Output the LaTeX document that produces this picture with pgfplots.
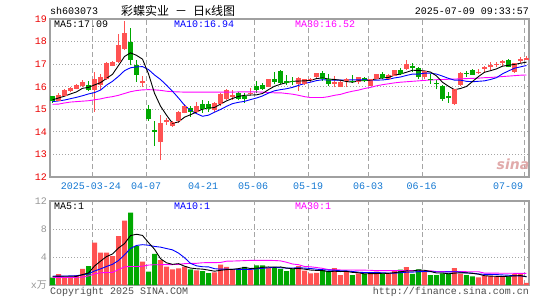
\documentclass[border=0pt]{standalone}
\usepackage{fontspec}
\setmainfont{Liberation Mono}
\setmonofont{Liberation Mono}
\newfontfamily\cjk{Noto Sans CJK SC}
\newfontfamily\logofont{DejaVu Sans}
\usepackage{pgfplots}
\pgfplotsset{compat=1.18}
\usepackage{pgfplotstable}
\usetikzlibrary{plotmarks}
\definecolor{cred}{RGB}{255,82,82}
\definecolor{cgreen}{RGB}{0,168,0}
\definecolor{cblue}{RGB}{0,0,255}
\definecolor{cmag}{RGB}{255,0,255}
\definecolor{cdate}{RGB}{20,120,210}
\definecolor{cframe}{RGB}{160,160,160}
\definecolor{cgrid}{RGB}{165,165,165}
\definecolor{cytk}{RGB}{235,0,0}
\definecolor{cvtk}{RGB}{150,150,150}

\pgfplotstableread{
i O H L C
1 15.40 15.70 15.35 15.62
2 15.62 15.90 15.58 15.82
3 15.82 16.00 15.75 15.93
4 15.90 16.12 15.88 16.06
5 16.06 16.30 16.00 16.20
7 15.88 16.65 14.90 16.34
8 16.08 16.56 15.85 16.42
9 16.36 17.08 16.30 17.05
10 16.93 17.15 16.90 17.06
11 17.10 18.33 17.05 17.83
12 17.68 18.92 17.62 18.34
15 16.20 16.47 15.97 16.23
18 13.56 14.75 12.75 14.38
19 14.44 14.62 14.30 14.50
20 14.28 14.50 14.22 14.42
21 14.52 14.93 14.40 14.86
22 14.87 15.23 14.82 15.11
24 14.90 15.33 14.85 15.13
27 14.97 15.33 14.90 15.25
28 15.24 15.73 15.15 15.67
29 15.50 15.92 15.42 15.82
30 15.55 15.85 15.43 15.62
33 15.68 15.95 15.63 15.72
36 16.03 16.36 15.97 16.32
41 16.14 16.44 15.82 16.36
42 16.16 16.34 16.08 16.30
43 16.30 16.40 16.22 16.33
44 16.44 16.62 16.38 16.59
47 16.13 16.47 15.97 16.17
48 16.02 16.30 15.98 16.17
49 16.26 16.40 15.97 16.32
51 16.22 16.44 16.14 16.41
53 16.07 16.34 16.02 16.32
54 16.36 16.58 16.33 16.56
56 16.36 16.56 16.30 16.51
57 16.51 16.75 16.48 16.73
59 16.81 17.18 16.76 16.98
62 16.44 16.70 16.36 16.66
67 15.26 15.92 15.18 15.88
68 16.11 16.66 16.05 16.59
71 16.62 16.78 16.58 16.65
72 16.82 16.92 16.62 16.85
73 16.90 17.10 16.76 16.92
74 16.97 17.10 16.88 17.00
75 17.08 17.18 16.92 17.11
77 16.67 17.05 16.62 17.04
78 17.16 17.33 17.03 17.19
79 17.22 17.35 17.18 17.25
}\redk

\pgfplotstableread{
i O H L C
0 15.56 15.60 15.30 15.40
6 16.06 16.25 15.83 15.86
13 17.97 18.59 16.95 17.20
14 16.96 17.18 16.22 16.52
16 15.01 15.20 14.50 14.57
17 14.05 14.50 13.38 14.02
23 15.04 15.14 14.68 14.90
25 15.23 15.40 14.84 15.05
26 15.22 15.35 14.90 15.05
31 15.70 15.77 15.40 15.47
32 15.58 15.70 15.29 15.50
34 16.00 16.25 15.70 15.88
35 16.05 16.15 15.85 15.92
37 16.32 16.66 16.10 16.25
38 16.66 16.73 16.10 16.20
39 16.25 16.50 16.07 16.20
40 16.25 16.45 16.08 16.23
45 16.59 16.70 16.26 16.36
46 16.32 16.55 16.05 16.14
50 16.24 16.51 16.15 16.21
52 16.35 16.42 16.20 16.26
55 16.56 16.66 16.36 16.41
58 16.73 16.85 16.51 16.59
60 16.88 17.03 16.66 16.84
61 16.81 16.88 16.36 16.44
63 16.34 16.56 16.14 16.31
64 16.16 16.29 15.88 16.13
65 15.99 16.07 15.37 15.48
66 15.57 15.77 15.29 15.54
69 16.60 16.70 16.44 16.57
70 16.73 16.80 16.55 16.55
76 17.18 17.22 16.86 16.88
}\greenk

\pgfplotstableread{
i V
1 1.57
2 1.10
3 1.10
4 1.38
5 2.29
7 6.05
8 4.62
9 4.62
10 4.14
11 7.00
12 9.19
15 3.33
18 3.57
19 2.62
20 2.24
21 2.38
22 2.62
24 2.10
27 1.80
28 2.90
29 2.60
30 2.20
33 2.20
36 2.50
41 2.70
42 2.05
43 1.67
44 1.75
47 2.40
48 1.40
49 1.90
51 1.65
53 1.60
54 1.90
56 1.55
57 2.10
59 2.55
62 1.90
67 2.40
68 1.60
71 1.10
72 1.30
73 1.30
74 1.25
75 1.15
77 1.55
78 1.55
79 0.30
}\redv

\pgfplotstableread{
i V
0 1.05
6 2.71
13 10.33
14 5.57
16 1.90
17 4.43
23 2.24
25 2.00
26 1.70
31 2.20
32 2.60
34 2.80
35 2.80
37 2.50
38 2.30
39 2.00
40 2.30
45 2.15
46 1.90
50 1.40
52 1.60
55 1.65
58 2.20
60 1.60
61 2.25
63 1.40
64 1.40
65 1.65
66 1.65
69 1.40
70 1.25
76 1.25
}\greenv

\pgfplotstableread{
i m5 m10 m30 v5 v10 v30
0 15.42 15.34 15.22 1.25 1.25 1.10
1 15.50 15.37 15.23 1.25 1.27 1.10
2 15.58 15.41 15.28 1.25 1.28 1.10
3 15.68 15.47 15.32 1.25 1.30 1.10
4 15.77 15.53 15.34 1.24 1.33 1.10
5 15.93 15.60 15.36 1.49 1.45 1.12
6 15.97 15.68 15.38 1.72 1.60 1.30
7 16.08 15.74 15.42 2.71 2.00 1.60
8 16.18 15.85 15.46 3.41 2.30 1.75
9 16.37 16.07 15.52 4.06 2.65 1.78
10 16.55 16.24 15.56 4.43 2.96 1.80
11 16.94 16.46 15.62 5.29 3.50 2.20
12 17.34 16.71 15.70 5.91 4.31 2.60
13 17.50 16.84 15.78 7.06 5.23 2.65
14 17.39 16.88 15.83 7.25 5.65 2.65
15 17.22 16.89 15.86 7.08 5.76 2.68
16 16.57 16.76 15.87 6.06 5.68 2.85
17 15.71 16.52 15.86 5.11 5.51 2.90
18 15.14 16.32 15.84 3.76 5.41 2.90
19 14.74 16.07 15.80 3.17 5.21 2.92
20 14.38 15.80 15.78 2.95 5.02 2.92
21 14.44 15.50 15.77 3.05 4.56 2.95
22 14.65 15.18 15.76 2.69 3.90 3.05
23 14.76 14.95 15.76 2.42 3.09 3.08
24 14.88 14.81 15.76 2.32 2.74 3.10
25 15.01 14.69 15.76 2.27 2.61 3.18
26 15.05 14.74 15.76 2.13 2.59 3.20
27 15.08 14.87 15.76 1.97 2.33 3.20
28 15.23 14.99 15.76 2.10 2.26 3.22
29 15.37 15.13 15.76 2.20 2.26 3.40
30 15.48 15.25 15.76 2.24 2.25 3.42
31 15.57 15.31 15.77 2.34 2.24 3.45
32 15.62 15.35 15.77 2.50 2.23 3.48
33 15.63 15.43 15.77 2.36 2.23 3.52
34 15.64 15.50 15.77 2.40 2.30 3.52
35 15.70 15.59 15.76 2.52 2.38 3.52
36 15.87 15.72 15.74 2.58 2.46 3.52
37 16.02 15.82 15.73 2.56 2.53 3.50
38 16.11 15.87 15.73 2.58 2.47 3.45
39 16.18 15.91 15.70 2.42 2.41 3.25
40 16.24 15.97 15.67 2.32 2.42 3.00
41 16.25 16.06 15.62 2.36 2.47 2.90
42 16.26 16.14 15.56 2.27 2.42 2.65
43 16.28 16.20 15.52 2.14 2.36 2.60
44 16.36 16.27 15.52 2.09 2.26 2.50
45 16.39 16.31 15.52 2.06 2.19 2.38
46 16.34 16.30 15.56 1.90 2.13 2.20
47 16.32 16.29 15.62 1.97 2.12 2.16
48 16.29 16.29 15.66 1.92 2.03 2.15
49 16.23 16.30 15.74 1.95 2.02 2.14
50 16.20 16.30 15.80 1.80 1.93 2.14
51 16.26 16.30 15.85 1.75 1.83 2.13
52 16.27 16.30 15.92 1.59 1.78 2.12
53 16.30 16.30 15.97 1.63 1.78 2.10
54 16.35 16.29 16.04 1.63 1.79 2.05
55 16.39 16.30 16.09 1.68 1.74 2.05
56 16.41 16.33 16.13 1.66 1.71 2.05
57 16.51 16.39 16.17 1.76 1.68 2.05
58 16.56 16.43 16.20 1.88 1.76 2.05
59 16.64 16.50 16.22 2.01 1.82 2.05
60 16.73 16.56 16.24 2.00 1.84 2.05
61 16.72 16.56 16.26 2.14 1.90 2.04
62 16.70 16.60 16.28 2.10 1.93 2.04
63 16.65 16.60 16.30 1.94 1.91 2.04
64 16.48 16.56 16.31 1.71 1.86 1.92
65 16.20 16.47 16.32 1.72 1.86 1.92
66 16.02 16.37 16.33 1.60 1.87 1.92
67 15.87 16.29 16.34 1.70 1.90 1.91
68 15.92 16.29 16.35 1.74 1.84 1.91
69 16.01 16.24 16.36 1.74 1.73 1.90
70 16.23 16.22 16.37 1.66 1.69 1.90
71 16.45 16.24 16.38 1.55 1.58 1.90
72 16.64 16.26 16.40 1.33 1.52 1.70
73 16.71 16.32 16.41 1.27 1.51 1.70
74 16.79 16.40 16.43 1.24 1.49 1.69
75 16.91 16.57 16.45 1.22 1.44 1.68
76 16.95 16.70 16.47 1.25 1.40 1.68
77 16.99 16.82 16.49 1.30 1.32 1.67
78 17.04 16.88 16.51 1.35 1.31 1.67
79 17.09 16.94 16.52 1.16 1.20 1.67
}\matab

\pgfplotsset{
  sinabase/.style={
    scale only axis, anchor=south west,
    width=479pt,
    xmin=-0.42, xmax=79.42,
    axis line style={cframe, line width=1.4pt},
    major tick length=0pt, tick style={draw=none},
    xtick={6.58,15.58,33.58,42.58,52.58,61.58,78.58},
    xticklabels={\empty,\empty,\empty,\empty,\empty,\empty,\empty},
    xmajorgrids, ymajorgrids,
    x grid style={cgrid, line width=0.9pt, dash pattern=on 5pt off 3pt},
    y grid style={cgrid, line width=0.9pt, dash pattern=on 1pt off 2pt},
    /pgf/number format/assume math mode=true,
    yticklabel style={inner sep=0pt, xshift=-3pt, font=\fontsize{10}{10}\selectfont},
  },
  wick/.style={draw=none, mark=none, forget plot,
    error bars/.cd, y dir=plus, y explicit, error mark=none,
    error bar style={draw=#1, line width=1pt}},
  body/.style={draw=none, mark=none, forget plot,
    error bars/.cd, y dir=plus, y explicit, error mark=none,
    error bar style={draw=#1, line width=5pt}},
  edge/.style={only marks, mark=-, mark size=2.5pt, forget plot,
    mark options={draw=#1, line width=1pt}},
}

\begin{document}
\begin{tikzpicture}
\useasboundingbox (0pt,0pt) rectangle (545pt,300pt);

% upper panel
\begin{axis}[sinabase, at={(50pt,123pt)}, height=158pt,
  ymin=12, ymax=19, ytick={12,13,...,19},
  yticklabel style={text=cytk}]
\addplot[wick=cred] table[x=i, y=L, y error plus expr={\thisrow{H}-\thisrow{L}}] {\redk};
\addplot[wick=cgreen] table[x=i, y=L, y error plus expr={\thisrow{H}-\thisrow{L}}] {\greenk};
\addplot[body=cred] table[x=i, y=O, y error plus expr={\thisrow{C}-\thisrow{O}}] {\redk};
\addplot[body=cgreen] table[x=i, y=C, y error plus expr={\thisrow{O}-\thisrow{C}}] {\greenk};
\addplot[edge=cred] table[x=i, y=O] {\redk};
\addplot[edge=cred] table[x=i, y=C] {\redk};
\addplot[edge=cgreen] table[x=i, y=O] {\greenk};
\addplot[edge=cgreen] table[x=i, y=C] {\greenk};
\addplot[cmag, line width=0.9pt, mark=none] table[x=i, y=m30] {\matab};
\addplot[cblue, line width=0.9pt, mark=none] table[x=i, y=m10] {\matab};
\addplot[black, line width=0.9pt, mark=none] table[x=i, y=m5] {\matab};
\end{axis}

% lower panel
\begin{axis}[sinabase, at={(50pt,15pt)}, height=84pt,
  ymin=0, ymax=12, ytick={0,4,8,12},
  yticklabels={{x{\cjk 万}},4,8,12},
  yticklabel style={text=cvtk}]
\addplot[ybar, bar width=5pt, bar shift=0pt, fill=cred, draw=none] table[x=i, y=V] {\redv};
\addplot[ybar, bar width=5pt, bar shift=0pt, fill=cgreen, draw=none] table[x=i, y=V] {\greenv};
\addplot[cmag, line width=0.9pt, mark=none] table[x=i, y=v30] {\matab};
\addplot[cblue, line width=0.9pt, mark=none] table[x=i, y=v10] {\matab};
\addplot[black, line width=0.9pt, mark=none] table[x=i, y=v5] {\matab};
\end{axis}

% header
\begin{scope}[every node/.style={inner sep=0pt, font=\fontsize{10}{10}\selectfont}]
\node[anchor=west] at (50pt,289pt) {sh603073};
\node[anchor=west] at (121pt,289pt) {{\cjk\fontsize{12}{12}\selectfont 彩蝶实业} {\cjk\fontsize{12}{12}\selectfont －} {\cjk\fontsize{12}{12}\selectfont 日}K{\cjk\fontsize{12}{12}\selectfont 线图}};
\node[anchor=east] at (529pt,289pt) {2025-07-09 09:33:57};
% legends upper
\node[anchor=west] at (54pt,276pt) {MA5:17.09};
\node[anchor=west, text=cblue] at (174pt,276pt) {MA10:16.94};
\node[anchor=west, text=cmag] at (295pt,276pt) {MA30:16.52};
% date labels
\foreach \xx/\lab in {91/2025-03-24, 146/04-07, 203/04-21, 253/05-06, 308/05-19, 368/06-03, 421.5/06-16, 508/07-09}
  \node[text=cdate] at (\xx pt,114pt) {\lab};
% legends lower
\node[anchor=west] at (54pt,94pt) {MA5:1};
\node[anchor=west, text=cblue] at (174pt,94pt) {MA10:1};
\node[anchor=west, text=cmag] at (295pt,94pt) {MA30:1};
% footer
\node[anchor=west, text=black!70] at (50pt,8pt) {Copyright 2025 SINA.COM};
\node[anchor=east, text=black!70] at (529pt,8pt) {http://finance.sina.com.cn};
% watermark
\node[text={rgb,255:red,225;green,170;blue,170}, font=\logofont\bfseries\itshape\fontsize{14}{14}\selectfont] at (513pt,136pt) {sina};
\end{scope}
\end{tikzpicture}
\end{document}
